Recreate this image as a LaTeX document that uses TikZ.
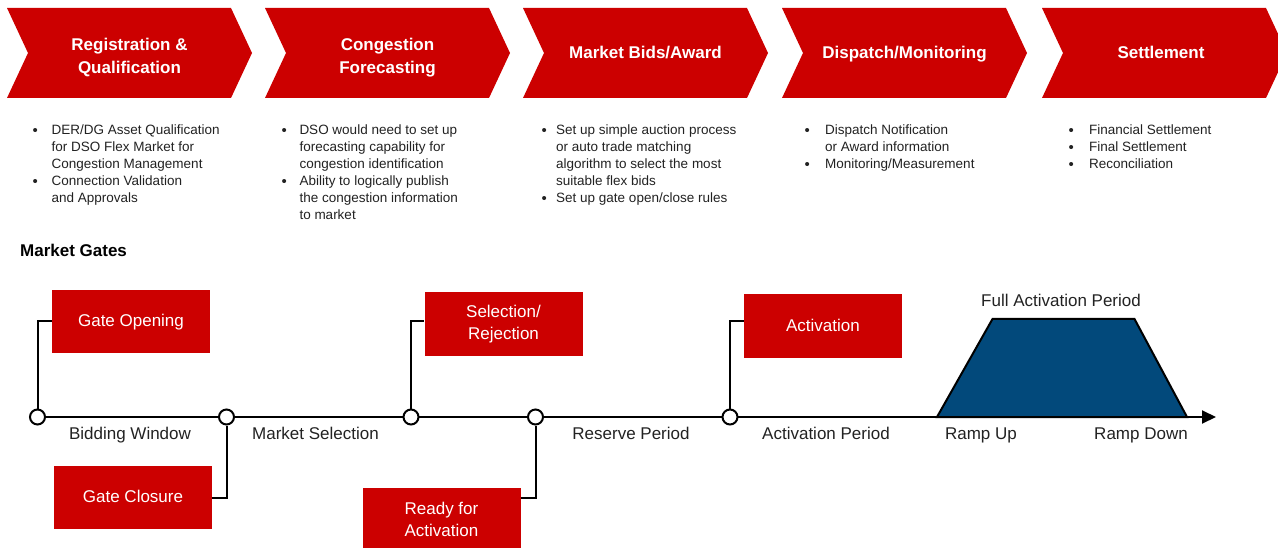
\documentclass[tikz,border=0pt]{standalone}
\usepackage{fontspec}
\setmainfont{Liberation Sans}
\usetikzlibrary{arrows.meta}
\definecolor{vred}{HTML}{CC0000}
\definecolor{vblue}{HTML}{02497B}
\definecolor{txt}{HTML}{222222}
\newcommand\blt{{\fontsize{15}{17}\selectfont\raisebox{-0.6pt}{\textbullet}}}
\begin{document}
\begin{tikzpicture}[x=1pt,y=-1pt,
  chevtext/.style={text=white,font=\fontsize{17}{23}\selectfont\bfseries,align=center,inner sep=0},
  gatebox/.style={fill=vred,text=white,minimum width=158pt,minimum height=63pt,inner sep=0,align=center,font=\fontsize{17}{22}\selectfont},
  gate/.style={circle,draw=black,fill=white,line width=2pt,minimum size=15pt,inner sep=0},
  conn/.style={draw=black,line width=2pt},
  tlabel/.style={font=\fontsize{17}{20}\selectfont,anchor=base,inner sep=0,text=txt},
  blist/.style={anchor=north west,inner sep=0,font=\fontsize{13.5}{17}\selectfont,text=txt}
]
\useasboundingbox (0,0) rectangle (1278,548);
\clip (0,0) rectangle (1278,548);
% chevrons
\foreach \x in {7,265,523,782,1042}{
  \fill[vred] (\x,8) -- ++(224,0) -- ++(21,45) -- ++(-21,45) -- ++(-224,0) -- ++(21,-45) -- cycle;
}
\node[chevtext] (t1) at (129.5,58) {Registration \&\\Qualification};
\node[chevtext] (t2) at (387.5,58) {Congestion\\Forecasting};
\node[chevtext,anchor=base] (t3) at (645.5,59) {Market Bids/Award};
\node[chevtext,anchor=base] (t4) at (904.5,59) {Dispatch/Monitoring};
\node[chevtext,anchor=base] (t5) at (1161,59) {Settlement};
% bullet lists
\node[blist] (b1) at (32.5,122.5) {\begin{tabular}{@{}p{19pt}@{}l@{}}
\blt & DER/DG Asset Qualification\\
 & for DSO Flex Market for\\
 & Congestion Management\\
\blt & Connection Validation\\
 & and Approvals
\end{tabular}};
\node[blist] (b2) at (281.5,122.5) {\begin{tabular}{@{}p{17.8pt}@{}l@{}}
\blt & DSO would need to set up\\
 & forecasting capability for\\
 & congestion identification\\
\blt & Ability to logically publish\\
 & the congestion information\\
 & to market
\end{tabular}};
\node[blist] (b3) at (541.5,122.5) {\begin{tabular}{@{}p{14.5pt}@{}l@{}}
\blt & Set up simple auction process\\
 & or auto trade matching\\
 & algorithm to select the most\\
 & suitable flex bids\\
\blt & Set up gate open/close rules
\end{tabular}};
\node[blist] (b4) at (804.5,122.5) {\begin{tabular}{@{}p{20.5pt}@{}l@{}}
\blt & Dispatch Notification\\
 & or Award information\\
\blt & Monitoring/Measurement
\end{tabular}};
\node[blist] (b5) at (1068.5,122.5) {\begin{tabular}{@{}p{20.5pt}@{}l@{}}
\blt & Financial Settlement\\
\blt & Final Settlement\\
\blt & Reconciliation
\end{tabular}};
\node[anchor=base west,inner sep=0,font=\fontsize{17}{20}\selectfont\bfseries,text=black] (mg) at (20,256.5) {Market Gates};
% trapezoid
\filldraw[fill=vblue,draw=black,line width=2pt,line join=miter] (937,417) -- (992.5,319) -- (1134.5,319) -- (1187,417) -- cycle;
\node[tlabel] (fap) at (1061,307) {Full Activation Period};
% timeline
\coordinate (tstart) at (37.5,417);
\coordinate (tend) at (1216,417);
\draw[conn,-{Triangle[length=14pt,width=13pt]}] (tstart) -- (tend);
% boxes
\node[gatebox,text depth=1.5pt] (gopen) at (131,321.5) {Gate Opening};
\node[gatebox,text depth=1.5pt] (gclose) at (133,497.5) {Gate Closure};
\node[gatebox] (sel) at (503.5,324) {Selection/\\Rejection};
\node[gatebox] (ready) at (441.5,519.5) {Ready for\\Activation};
\node[gatebox,text depth=1.5pt] (act) at (823,326) {Activation};
% gates
\node[gate] (c1) at (37.5,417) {};
\node[gate] (c2) at (226.5,417) {};
\node[gate] (c3) at (411,417) {};
\node[gate] (c4) at (535.5,417) {};
\node[gate] (c5) at (730,417) {};
% connectors
\draw[conn] (c1.north) |- (gopen.west);
\draw[conn] (gclose.east) -| (c2.south);
\draw[conn] (c3.north) |- ([yshift=3pt]sel.west);
\draw[conn] ([yshift=21.5pt]ready.east) -| (c4.south);
\draw[conn] (c5.north) |- ([yshift=5pt]act.west);
% labels
\node[tlabel] (l1) at (130,439) {Bidding Window};
\node[tlabel] (l2) at (315.5,439) {Market Selection};
\node[tlabel] (l3) at (631,439) {Reserve Period};
\node[tlabel] (l4) at (826,439) {Activation Period};
\node[tlabel] (l5) at (981,439) {Ramp Up};
\node[tlabel] (l6) at (1141,439) {Ramp Down};
\end{tikzpicture}
\end{document}
